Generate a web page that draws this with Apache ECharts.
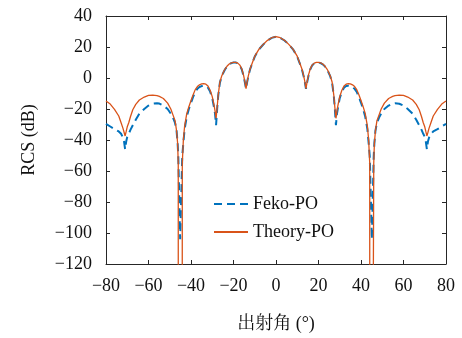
<!DOCTYPE html>
<html>
<head>
<meta charset="utf-8">
<script src="https://cdn.jsdelivr.net/npm/echarts@6/dist/echarts.min.js"></script>
<style>html,body{margin:0;padding:0;background:#fff}#c{width:462px;height:338px}</style>
</head>
<body>
<div id="c"></div>
<script>
// Angle samples (degrees)
const angles = [
-80,-78,-76,-74,-72.9,-72,-71.5,-71,-70.5,-70,-69.3,-68.5,-67.4,-66,-64.3,-62,-60,-58,-56,-54.9,-53,-51,-49.5,-48.5,-47.5,-46.8,-46.3,-46.0,-45.95,-45.1,-44.15,-44.1,-43.6,-43,-42,-41,-40,-39,-38,-37,-36,-35,-34,-33,-32,-31,-30,-29.3,-28.7,-28.2,-27.7,-27.2,-26.4,-25.5,-24.5,-24,-23,-22,-21,-20,-19,-18,-17,-16.1,-15.3,-14.7,-14.1,-13.6,-13,-12.2,-11,-9.9,-8,-6,-4,-2,
0,
2,4,6,8,9.9,11,12.2,13,13.6,14.1,14.7,15.3,16.1,17,18,19,20,21,22,23,24,24.5,25.5,26.4,27.2,27.7,28.2,28.7,29.3,30,31,32,33,34,35,36,37,38,39,40,41,42,43,43.6,44.1,44.15,45.1,45.95,46.0,46.3,46.8,47.5,48.5,49.5,51,53,54.9,56,58,60,62,64.3,66,67.4,68.5,69.3,70,70.5,71,71.5,72,72.9,74,76,78,80
];
// Theory-PO RCS (dB)
const theoryPO = [
-14.8,-16.8,-20.2,-24.5,-28.9,-32.5,-35,-37.4,-34.5,-31.5,-28.9,-25,-20.5,-17,-14.2,-12.3,-11.2,-11.0,-11.4,-11.9,-13.2,-16.2,-20,-23.8,-27.5,-34,-42,-55,-400,-400,-400,-55,-40,-31,-23,-18.5,-14.5,-10.8,-7.5,-5.5,-4.4,-3.8,-3.7,-4.0,-5.2,-7.9,-12,-16.5,-21,-26,-19,-11,-2.6,1.5,4.5,5.8,7.7,9,9.8,10.1,10.1,9.6,8.3,5.8,2,-2,-6.8,-2.5,1.5,5.8,10.3,14.3,18.6,21.7,24.3,26,
26.7,
26,24.3,21.7,18.6,14.3,10.3,5.8,1.5,-2.5,-6.8,-2,2,5.8,8.3,9.6,10.1,10.1,9.8,9,7.7,5.8,4.5,1.5,-2.6,-11,-19,-26,-21,-16.5,-12,-7.9,-5.2,-4.0,-3.7,-3.8,-4.4,-5.5,-7.5,-10.8,-14.5,-18.5,-23,-31,-40,-55,-400,-400,-400,-55,-42,-34,-27.5,-23.8,-20,-16.2,-13.2,-11.9,-11.4,-11.0,-11.2,-12.3,-14.2,-17,-20.5,-25,-28.9,-31.5,-34.5,-37.4,-35,-32.5,-28.9,-24.5,-20.2,-16.8,-14.8
];
// Feko-PO RCS (dB)
const fekoPO = [
-29.6,-31.3,-33,-34.5,-36,-38.5,-41,-46,-41,-38,-36,-33.5,-30.5,-27,-23,-20,-17.8,-16.6,-16.3,-16.5,-17.8,-20,-23,-25.5,-29,-34,-42,-50,-52,-104,-52,-50,-42,-33,-25,-20,-16,-12.2,-9,-7,-5.8,-5.2,-5.0,-5.2,-6.3,-8.8,-13,-18,-23,-30.5,-20,-11.5,-3,1.2,4.2,5.5,7.5,8.8,9.6,10,10,9.5,8.1,5.5,1.5,-2.5,-7,-2.8,1.2,5.6,10.1,14.1,18.5,21.6,24.2,25.9,
26.6,
25.9,24.2,21.6,18.5,14.1,10.1,5.6,1.2,-2.8,-7,-2.5,1.5,5.5,8.1,9.5,10,10,9.6,8.8,7.5,5.5,4.2,1.2,-3,-11.5,-20,-30.5,-23,-18,-13,-8.8,-6.3,-5.2,-5.0,-5.2,-5.8,-7,-9,-12.2,-16,-20,-25,-33,-42,-50,-52,-104,-52,-50,-42,-34,-29,-25.5,-23,-20,-17.8,-16.5,-16.3,-16.6,-17.8,-20,-23,-27,-30.5,-33.5,-36,-38,-41,-46,-41,-38.5,-36,-34.5,-33,-31.3,-29.6
];
const xTicks = [-80,-60,-40,-20,0,20,40,60,80];
const yTicks = [-120,-100,-80,-60,-40,-20,0,20,40];
const seriesNames = ['Feko-PO','Theory-PO'];

const pairs = (ys) => angles.map((a,i)=>[a, ys[i]]);
const fmt = v => (v < 0 ? '\u2212' + Math.abs(v) : String(v));
const FONT = '"Liberation Serif", "Noto Serif CJK SC", "Noto Sans CJK SC", serif';
const axisCol = '#262626';

const chart = echarts.init(document.getElementById('c'), null, {renderer:'canvas'});
const baseAxis = {
  type:'value',
  axisLine:{show:true, onZero:false, lineStyle:{color:axisCol, width:1}},
  axisTick:{show:true, inside:true, length:4, lineStyle:{color:axisCol, width:1}},
  splitLine:{show:false}
};
chart.setOption({
  animation:false,
  backgroundColor:'#fff',
  grid:{left:106, right:16, top:16, bottom:69, containLabel:false},
  legend:{
    orient:'vertical', left:208, top:190, itemGap:10,
    itemWidth:34, itemHeight:14,
    itemStyle:{opacity:0},
    textStyle:{fontFamily:FONT, fontSize:18, color:'#111'},
    data:seriesNames
  },
  xAxis:[
    Object.assign({}, baseAxis, {
      min:xTicks[0], max:xTicks[xTicks.length-1], interval:20, position:'bottom',
      axisLabel:{formatter:fmt, fontFamily:FONT, fontSize:18, color:'#111', margin:13},
      name:'出射角 (°)', nameLocation:'middle', nameGap:51,
      nameTextStyle:{fontFamily:FONT, fontSize:18, color:'#111'}
    }),
    Object.assign({}, baseAxis, {
      min:xTicks[0], max:xTicks[xTicks.length-1], interval:20, position:'top',
      axisLabel:{show:false}
    })
  ],
  yAxis:[
    Object.assign({}, baseAxis, {
      min:yTicks[0], max:yTicks[yTicks.length-1], interval:20, position:'left',
      axisLabel:{formatter:fmt, fontFamily:FONT, fontSize:18, color:'#111', margin:14},
      name:'RCS (dB)', nameLocation:'middle', nameGap:68,
      nameTextStyle:{fontFamily:FONT, fontSize:18, color:'#111'}
    }),
    Object.assign({}, baseAxis, {
      min:yTicks[0], max:yTicks[yTicks.length-1], interval:20, position:'right',
      axisLabel:{show:false}
    })
  ],
  series:[
    {name:seriesNames[0], type:'line', data:pairs(fekoPO), symbol:'none', clip:true,
     color:'#0072BD',
     lineStyle:{color:'#0072BD', width:2, type:[8,5]}},
    {name:seriesNames[1], type:'line', data:pairs(theoryPO), symbol:'none', clip:true,
     color:'#D95319',
     lineStyle:{color:'#D95319', width:1.3}}
  ]
});
</script>
</body>
</html>
